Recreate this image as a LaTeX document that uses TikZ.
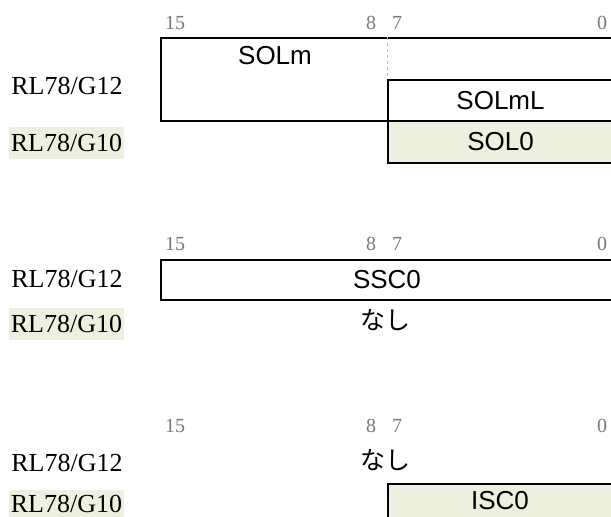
\documentclass[tikz,border=0pt]{standalone}
\usepackage{fontspec}
\setmainfont{Liberation Serif}
\newfontfamily\arialfont{Liberation Sans}
\newfontfamily\jpfont{Noto Sans CJK JP}
\definecolor{lgreen}{RGB}{235,241,222}
\definecolor{numgray}{RGB}{120,120,120}
\tikzset{
  lbl/.style={inner sep=0pt, font=\fontsize{26}{30}\selectfont},
  hl/.style={lbl, fill=lgreen, minimum width=115pt, minimum height=32pt},
  num/.style={inner sep=0pt, text=numgray, font=\fontsize{20}{24}\selectfont},
  regbox/.style={draw=black, line width=1.8pt, inner sep=0pt, font=\arialfont\fontsize{26}{30}\selectfont},
  sans/.style={inner sep=0pt, font=\arialfont\fontsize{26}{30}\selectfont},
  jp/.style={inner sep=0pt, font=\jpfont\fontsize{25}{30}\selectfont},
}
\begin{document}
\begin{tikzpicture}[x=1pt,y=-1pt]
\useasboundingbox (0,0) rectangle (611,517);
% ---------- section 1
\node[num] (a15) at (175,23) {15};
\node[num] (a8) at (371,23) {8};
\node[num] (a7) at (397,23) {7};
\node[num] (a0) at (602,23) {0};
\node[lbl] (ag12) at (67,86) {RL78/G12};
\node[hl] (ag10) at (66.5,143) {RL78/G10};
\node[regbox, minimum width=452pt, minimum height=83pt] (solm) at (387,79.5) {};
\node[sans] (solmt) at (275,56) {SOLm};
\node[regbox, minimum width=225pt, minimum height=41pt] (solml) at (500.5,100.5) {SOLmL};
\node[regbox, fill=lgreen, minimum width=225pt, minimum height=42pt] (sol0) at (500.5,142) {SOL0};
\draw[dashed, gray!50, line width=0.8pt] (solm.north -| solml.west) -- (solml.north west);
% ---------- section 2
\node[num] (b15) at (175,244) {15};
\node[num] (b8) at (371,244) {8};
\node[num] (b7) at (397,244) {7};
\node[num] (b0) at (602,244) {0};
\node[lbl] (bg12) at (67,279) {RL78/G12};
\node[hl] (bg10) at (66.5,324) {RL78/G10};
\node[regbox, minimum width=452pt, minimum height=40pt] (ssc0) at (387,280) {SSC0};
\node[jp] (bnone) at (385,320) {なし};
% ---------- section 3
\node[num] (c15) at (175,426) {15};
\node[num] (c8) at (371,426) {8};
\node[num] (c7) at (397,426) {7};
\node[num] (c0) at (602,426) {0};
\node[lbl] (cg12) at (67,463) {RL78/G12};
\node[hl, minimum height=27pt] (cg10) at (66.5,503.5) {RL78/G10};
\node[jp] (cnone) at (385,460) {なし};
\node[regbox, fill=lgreen, minimum width=225pt, minimum height=42pt] (isc0) at (500.5,505) {};
\node[sans] (isc0t) at (500,501) {ISC0};
\end{tikzpicture}
\end{document}
